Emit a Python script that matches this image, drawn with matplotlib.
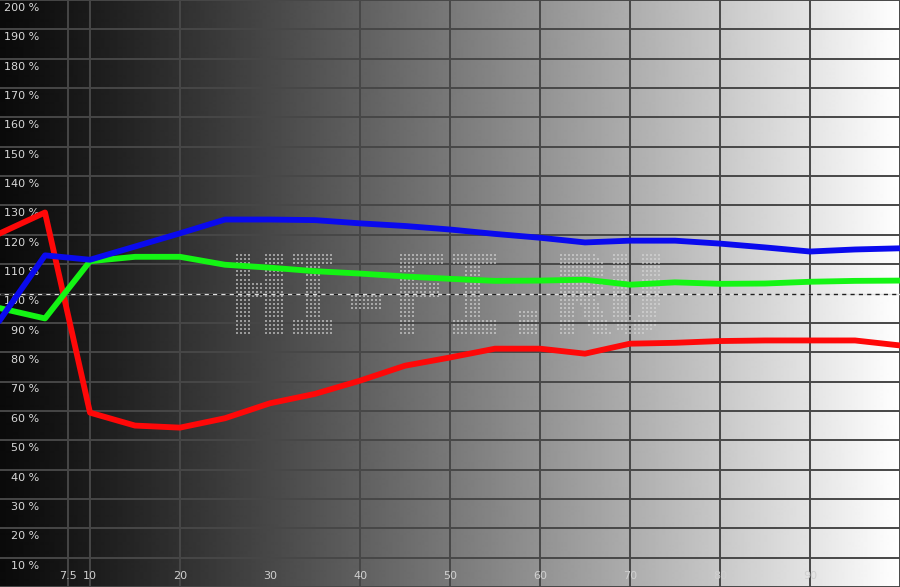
import matplotlib
matplotlib.use("Agg")
import matplotlib.pyplot as plt  # графики
import numpy as np  # массивы
from matplotlib.textpath import TextPath
from matplotlib.font_manager import FontProperties
from matplotlib.transforms import Affine2D

# уровни серого, %
levels = [0, 5, 10, 15, 20, 25, 30, 35, 40, 45, 50,
          55, 60, 65, 70, 75, 80, 85, 90, 95, 100]

# баланс RGB, %
red = [120.5, 127.6, 59.4, 55.0, 54.3, 57.5, 62.6, 65.8, 70.3, 75.4, 78.2,
       81.2, 81.2, 79.5, 82.9, 83.2, 83.8, 84.0, 84.0, 84.0, 82.3]
green = [95.0, 91.5, 111.0, 112.5, 112.5, 109.8, 108.8, 107.6, 106.8, 105.8, 105.0,
         104.3, 104.4, 104.7, 103.0, 103.8, 103.3, 103.4, 104.0, 104.3, 104.4]
blue = [91.0, 113.0, 111.5, 116.0, 120.5, 125.2, 125.2, 125.0, 123.9, 123.0, 121.8,
        120.3, 119.0, 117.4, 118.0, 118.0, 117.0, 115.7, 114.3, 115.0, 115.4]

# подписи осей
y_ticks = list(range(10, 201, 10))
y_labels = ["{} %".format(v) for v in y_ticks]
x_ticks = [7.5, 10, 20, 30, 40, 50, 60, 70, 80, 90]
x_labels = ["7.5", "10", "20", "30", "40", "50", "60", "70", "80", "90"]

watermark = "HI-FI.RU"

fig = plt.figure(figsize=(9, 5.87), dpi=100)
ax = fig.add_axes([0, 0, 1, 1])
ax.set_xlim(0, 100)
ax.set_ylim(0, 200)
ax.set_axis_off()

# фон - градиент от черного к белому
t = np.linspace(0, 1, 900)
shade = 0.04 + 0.96 * t ** 1.15
ax.imshow(shade[np.newaxis, :], extent=[0, 100, 0, 200], aspect="auto",
          cmap="gray", vmin=0, vmax=1, interpolation="bilinear", zorder=0)

# сетка
grid_color = "#474747"
for v in [0] + y_ticks:
    if v != 100:
        ax.axhline(v, color=grid_color, lw=1.4, zorder=1)
for x in [7.5] + list(range(10, 101, 10)):
    ax.axvline(x, color=grid_color, lw=1.4, zorder=1)

# водяной знак из точек (точечная матрица внутри контура текста)
tp = TextPath((0, 0), watermark, size=1,
              prop=FontProperties(family="DejaVu Sans Mono", weight="bold"))
bb = tp.get_extents()
x0, x1, y0, y1 = 26.4, 73.0, 86.2, 114.2
trans = (Affine2D().translate(-bb.x0, -bb.y0)
         .scale((x1 - x0) / bb.width, (y1 - y0) / bb.height)
         .translate(x0, y0))
wm_path = trans.transform_path(tp)
dx, dy = 4.1 / 9, 4.1 / 2.935
gx, gy = np.meshgrid(np.arange(x0 - 1, x1 + 1, dx), np.arange(y0 - 1, y1 + 1, dy))
pts = np.column_stack([gx.ravel(), gy.ravel()])
inside = np.zeros(len(pts), dtype=bool)
# немного утолщаем буквы
for sx in (-0.28, 0, 0.28):
    for sy in (-0.3, 0, 0.3):
        inside |= wm_path.contains_points(pts + [sx, sy])
ax.scatter(pts[inside, 0], pts[inside, 1], s=3.0, marker="s", lw=0,
           color=(0.85, 0.85, 0.85), alpha=0.6, zorder=2)

# линия 100 %
ax.axhline(100, color="#e0e0e0", lw=1, zorder=3)
ax.axhline(100, color="#202020", lw=1, linestyle=(0, (3, 3)), zorder=3)

# подписи
for v, lab in zip(y_ticks, y_labels):
    ax.text(4.4, v - 2.7, lab, ha="right", va="center", fontsize=8,
            color="#d8d8d8", zorder=4)
for x, lab in zip(x_ticks, x_labels):
    ax.text(x, 3.8, lab, ha="center", va="center", fontsize=8,
            color="#d0d0d0", zorder=4)

# кривые
ax.plot(levels, red, color="#ff0808", lw=4.2, zorder=5)
ax.plot(levels, green, color="#14f514", lw=4.2, zorder=6)
ax.plot(levels, blue, color="#0a0aee", lw=4.2, zorder=7)

fig.savefig("out.png", dpi=100)
